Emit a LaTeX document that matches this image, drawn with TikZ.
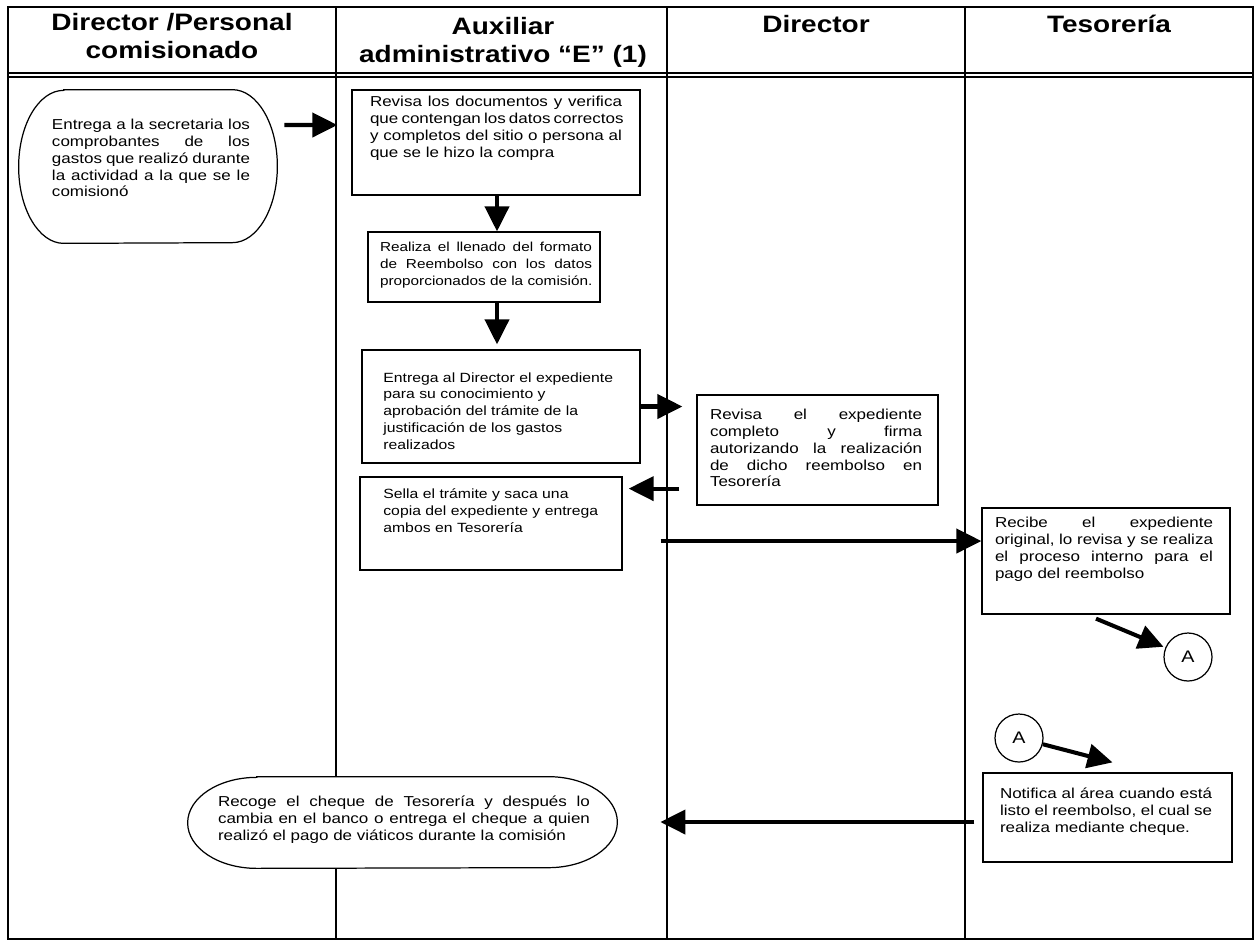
\documentclass[tikz,border=0pt]{standalone}
\usepackage{fontspec}
\setmainfont{Liberation Sans}[FakeStretch=1.18]
\usetikzlibrary{arrows.meta,positioning}

% one justified line of a box text
\newcommand{\lineajust}[1]{\makebox[\hsize][s]{#1}\\}

\tikzset{
  lane/.style={line width=0.7pt},
  box/.style={draw, line width=0.7pt, fill=white, inner sep=0pt},
  term/.style={inner sep=0pt},
  txt/.style={font=\fontsize{8.2}{9.6}\selectfont, align=justify, inner sep=0pt},
  txts/.style={font=\fontsize{7.4}{9.6}\selectfont, align=justify, inner sep=0pt},
  txtl/.style={font=\fontsize{7.6}{9.6}\selectfont, align=left, inner sep=0pt},
  hdr/.style={font=\fontsize{13.5}{16}\selectfont\bfseries, align=center},
  conector/.style={circle, draw, line width=0.7pt, fill=white, minimum size=9.6mm, inner sep=0pt, font=\fontsize{9.5}{11}\selectfont},
  flow/.style={line width=2.3pt, -{Triangle[length=5mm,width=4.8mm]}},
}

\begin{document}
\begin{tikzpicture}[x=0.2mm, y=-0.2mm]
\useasboundingbox (0,0) rectangle (1255,946);

% Swimlane table
\draw[lane] (8,7) rectangle (1253,939);
\draw[lane] (8,73) -- (1253,73);
\draw[lane] (8,77) -- (1253,77);
\foreach \x in {336,667,965}
  \draw[lane] (\x,7) -- (\x,939);

\node[hdr] (h1) at (172,36) {Director /Personal\\comisionado};
\node[hdr] (h2) at (503,42) {Auxiliar\\administrativo “E” (1)};
\node[hdr] (h3) at (816,24) {Director};
\node[hdr] (h4) at (1109,24) {Tesorería};

% Start terminator
\node[term, minimum width=51.6mm, minimum height=30.6mm] (entrega) at (148,166.5) {};
\draw[box] ([xshift=9mm]entrega.north west) -- ([xshift=-9mm]entrega.north east)
  arc[start angle=90, end angle=-90, x radius=9mm, y radius=15.3mm]
  -- ([xshift=9mm]entrega.south west)
  arc[start angle=270, end angle=90, x radius=9mm, y radius=15.3mm] -- cycle;
\node[txt, text width=39.6mm] (entrega-t) at (151,158) {%
  \lineajust{Entrega a la secretaria los}
  \lineajust{comprobantes de los}
  \lineajust{gastos que realizó durante}
  \lineajust{la actividad a la que se le}
  comisionó};

% Auxiliar administrativo
\node[box, minimum width=57.6mm, minimum height=21mm] (revisa) at (496,142.5) {};
\node[txt, text width=50.4mm] (revisa-t) at (496,128) {%
  \lineajust{Revisa los documentos y verifica}
  \lineajust{que contengan los datos correctos}
  \lineajust{y completos del sitio o persona al}
  que se le hizo la compra};

\node[box, minimum width=46.4mm, minimum height=14mm] (realiza) at (484,267) {};
\node[txts, text width=42.4mm] (realiza-t) at (486,265) {%
  \lineajust{Realiza el llenado del formato}
  \lineajust{de Reembolso con los datos}
  \mbox{proporcionados de la comisión.}};

\node[box, minimum width=55.6mm, minimum height=22.6mm] (entregadir) at (501,406.5) {};
\node[txtl, text width=50mm, anchor=west] (entregadir-t) at (383,411) {%
  Entrega al Director el expediente\\
  para su conocimiento y\\
  aprobación del trámite de la\\
  justificación de los gastos\\
  realizados};

\node[box, minimum width=52.4mm, minimum height=18.6mm] (sella) at (491,523.5) {};
\node[txtl, text width=50mm, anchor=west] (sella-t) at (383,511) {%
  Sella el trámite y saca una\\
  copia del expediente y entrega\\
  ambos en Tesorería};

% Director
\node[box, minimum width=48.2mm, minimum height=22mm] (revisadir) at (817.5,450) {};
\node[txt, text width=42.4mm] (revisadir-t) at (816,448) {%
  \lineajust{Revisa el expediente}
  \lineajust{completo y firma}
  \lineajust{autorizando la realización}
  \lineajust{de dicho reembolso en}
  Tesorería};

% Tesoreria
\node[box, minimum width=49.6mm, minimum height=21.2mm] (recibe) at (1106,561) {};
\node[txt, text width=43.6mm] (recibe-t) at (1104,549) {%
  \lineajust{Recibe el expediente}
  \lineajust{original, lo revisa y se realiza}
  \lineajust{el proceso interno para el}
  pago del reembolso};

\node[conector] (a1) at (1188,657) {A};
\node[conector] (a2) at (1019,738) {A};

\node[box, minimum width=49.8mm, minimum height=17.8mm] (notifica) at (1107.5,817.5) {};
\node[txt, text width=42.4mm] (notifica-t) at (1106,812) {%
  \lineajust{Notifica al área cuando está}
  \lineajust{listo el reembolso, el cual se}
  realiza mediante cheque.};

% End terminator
\node[term, minimum width=85.8mm, minimum height=18.2mm] (recoge) at (402.5,822.5) {};
\draw[box] ([xshift=13.8mm]recoge.north west) -- ([xshift=-13.8mm]recoge.north east)
  arc[start angle=90, end angle=-90, x radius=13.8mm, y radius=9.1mm]
  -- ([xshift=13.8mm]recoge.south west)
  arc[start angle=270, end angle=90, x radius=13.8mm, y radius=9.1mm] -- cycle;
\node[txt, text width=74.4mm] (recoge-t) at (404,820) {%
  \lineajust{Recoge el cheque de Tesorería y después lo}
  \lineajust{cambia en el banco o entrega el cheque a quien}
  realizó el pago de viáticos durante la comisión};

% Flow arrows
\draw[flow] ([xshift=1.4mm,yshift=8.3mm]entrega.east) -- ([xshift=-2.8mm,yshift=3.5mm]revisa.west);
\draw[flow] ([xshift=0.2mm]revisa.south) -- ([xshift=0.2mm]revisa.south |- realiza.north);
\draw[flow] ([xshift=0.2mm]realiza.south -| revisa.south) -- ([xshift=0.2mm,yshift=1mm]entregadir.north -| revisa.south);
\draw[flow, shorten >=2.8mm] (entregadir.east) -- (entregadir.east -| revisadir.west);
\draw[flow, shorten <=3.4mm, shorten >=1.2mm] ([yshift=3.4mm]revisadir.south west) -- ([yshift=3.4mm]revisadir.south west -| sella.east);
\draw[flow, shorten <=7.6mm] ([yshift=-3.5mm]sella.east) -- ([yshift=-3.5mm]sella.east -| recibe.west);
\draw[flow, shorten >=0.4mm] ([xshift=-2mm,yshift=-0.8mm]recibe.south) -- (a1);
\draw[flow] (a2) -- ([xshift=1mm,yshift=2mm]notifica.north);
\draw[flow, shorten <=1.6mm, shorten >=8.6mm] ([yshift=-0.9mm]notifica.west) -- ([yshift=-0.9mm]notifica.west -| recoge.east);

\end{tikzpicture}
\end{document}
